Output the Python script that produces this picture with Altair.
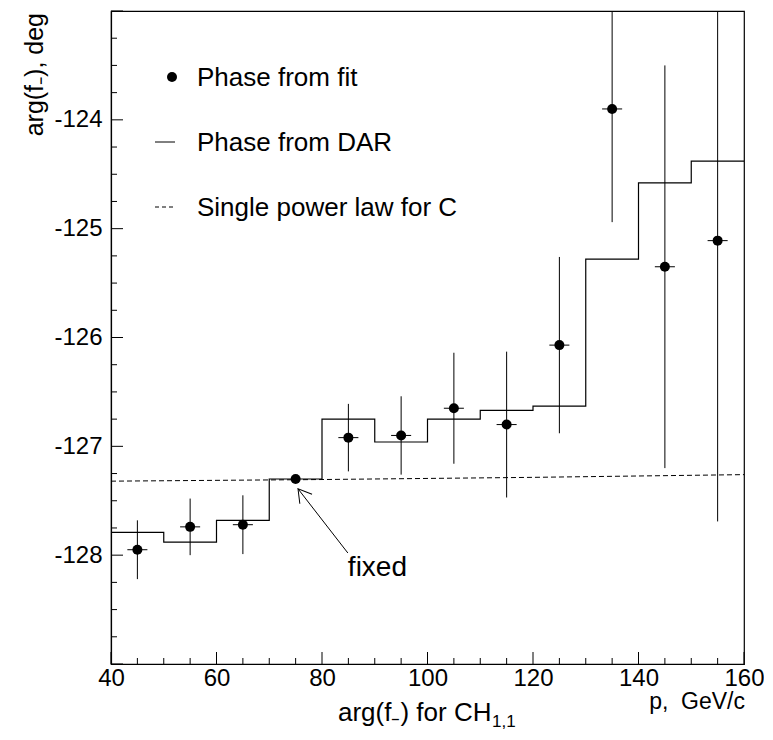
import altair as alt
import pandas as pd

# ---------------- data ----------------
p_centers = [45, 55, 65, 75, 85, 95, 105, 115, 125, 135, 145, 155]
phase_fit = [-127.95, -127.74, -127.72, -127.30, -126.92, -126.90,
             -126.65, -126.80, -126.07, -123.90, -125.35, -125.11]
phase_err = [0.27, 0.26, 0.27, 0.0, 0.31, 0.36, 0.51, 0.67, 0.81, 1.04, 1.85, 2.58]
p_halfwidth = [1.9, 1.9, 1.9, 0.0, 1.9, 1.9, 1.9, 1.9, 1.9, 1.9, 1.9, 1.9]

bin_edges = [40, 50, 60, 70, 80, 90, 100, 110, 120, 130, 140, 150, 160]
dar_phase = [-127.79, -127.88, -127.68, -127.30, -126.75, -126.96,
             -126.75, -126.67, -126.63, -125.28, -124.58, -124.38]

power_p = [40, 80, 120, 160]
power_phase = [-127.32, -127.305, -127.285, -127.26]

x_major = [40, 60, 80, 100, 120, 140, 160]
x_minor = [45, 50, 55, 65, 70, 75, 85, 90, 95, 105, 110, 115,
           125, 130, 135, 145, 150, 155]
y_major = [-129, -128, -127, -126, -125, -124, -123]
y_labels = [-128, -127, -126, -125, -124]
y_minor = [-128.75, -128.5, -128.25, -127.75, -127.5, -127.25,
           -126.75, -126.5, -126.25, -125.75, -125.5, -125.25,
           -124.75, -124.5, -124.25, -123.75, -123.5, -123.25]

legend_labels = ["Phase from fit", "Phase from DAR", "Single power law for C"]

arrow_tail = (84.9, -127.98)
arrow_tip = (75.45, -127.39)
fixed_pos = (84.9, -128.19)

FONT = "Liberation Sans"
W, H = 633, 653

xs = alt.Scale(domain=[40, 160], nice=False, zero=False)
ys = alt.Scale(domain=[-129, -123], nice=False, zero=False)

HYPHEN = "replace(datum.label, '\u2212', '-')"

AX_X = alt.Axis(values=x_major, title=None, grid=False, ticks=False, tickSize=0,
                labelPadding=2, labelFontSize=24, labelFont=FONT, labelColor="black",
                labelFlush=False, labelOverlap=False, domainColor="black",
                domainWidth=1.2, format="d")
AX_Y = alt.Axis(values=y_labels, title=None, grid=False, ticks=False, tickSize=0,
                labelPadding=9, labelFontSize=24, labelFont=FONT, labelColor="black",
                labelFlush=False, labelOverlap=False, domainColor="black",
                domainWidth=1.2, format="d", labelExpr=HYPHEN)


def X(field):
    return alt.X(field, scale=xs, axis=AX_X)


def Y(field):
    return alt.Y(field, scale=ys, axis=AX_Y)


fit_df = pd.DataFrame({
    "p": p_centers,
    "phase": phase_fit,
    "err": phase_err,
    "xw": p_halfwidth,
})
fit_df["lo"] = fit_df["phase"] - fit_df["err"]
fit_df["hi"] = fit_df["phase"] + fit_df["err"]
fit_df["xlo"] = fit_df["p"] - fit_df["xw"]
fit_df["xhi"] = fit_df["p"] + fit_df["xw"]
err_df = fit_df[fit_df["err"] > 0]
xerr_df = fit_df[fit_df["xw"] > 0]

step_df = pd.DataFrame({"p": bin_edges, "phase": dar_phase + [dar_phase[-1]]})
power_df = pd.DataFrame({"p": power_p, "phase": power_phase})

one = pd.DataFrame({"a": [0]})

# ---------------- layers ----------------
step_line = alt.Chart(step_df).mark_line(
    interpolate="step-after", color="black", strokeWidth=1.2, clip=True
).encode(x=X("p:Q"), y=Y("phase:Q"))

power_line = alt.Chart(power_df).mark_line(
    color="black", strokeWidth=1, strokeDash=[5, 3]
).encode(x=X("p:Q"), y=Y("phase:Q"))

vbars = alt.Chart(err_df).mark_rule(color="black", strokeWidth=1, clip=True).encode(
    x=X("p:Q"), y=Y("lo:Q"), y2="hi:Q")

hbars = alt.Chart(xerr_df).mark_rule(color="black", strokeWidth=1, clip=True).encode(
    x=X("xlo:Q"), x2="xhi:Q", y=Y("phase:Q"))

points = alt.Chart(fit_df).mark_circle(color="black", size=100, opacity=1).encode(
    x=X("p:Q"), y=Y("phase:Q"))

# ticks (inward, ROOT style)
ytick_major = alt.Chart(pd.DataFrame({"v": y_major})).mark_rule(color="black", strokeWidth=1).encode(
    y=Y("v:Q"), x=alt.value(0), x2=alt.value(12))
ytick_minor = alt.Chart(pd.DataFrame({"v": y_minor})).mark_rule(color="black", strokeWidth=1).encode(
    y=Y("v:Q"), x=alt.value(0), x2=alt.value(6))
xtick_major = alt.Chart(pd.DataFrame({"v": x_major})).mark_rule(color="black", strokeWidth=1).encode(
    x=X("v:Q"), y=alt.value(H), y2=alt.value(H - 12))
xtick_minor = alt.Chart(pd.DataFrame({"v": x_minor})).mark_rule(color="black", strokeWidth=1).encode(
    x=X("v:Q"), y=alt.value(H), y2=alt.value(H - 6))

# legend (manual, inside plot)
leg_dot = alt.Chart(one).mark_circle(color="black", size=100, opacity=1).encode(
    x=alt.value(61), y=alt.value(66))
leg_line = alt.Chart(one).mark_rule(color="black", strokeWidth=1).encode(
    x=alt.value(44), x2=alt.value(64), y=alt.value(131))
leg_dash = alt.Chart(one).mark_rule(color="black", strokeWidth=1, strokeDash=[4, 3]).encode(
    x=alt.value(44), x2=alt.value(64), y=alt.value(196))
leg_texts = [
    alt.Chart(one).mark_text(text=lbl, align="left", baseline="alphabetic",
                             font=FONT, fontSize=26, color="black").encode(
        x=alt.value(86), y=alt.value(yy))
    for lbl, yy in zip(legend_labels, [75, 140, 205])
]

# annotation "fixed" with arrow
arrow_df = pd.DataFrame({"x": [arrow_tail[0]], "y": [arrow_tail[1]],
                         "x2": [arrow_tip[0]], "y2": [arrow_tip[1]]})
arrow_shaft = alt.Chart(arrow_df).mark_rule(color="black", strokeWidth=1).encode(
    x=X("x:Q"), y=Y("y:Q"), x2="x2:Q", y2="y2:Q")
arrow_head = alt.Chart(arrow_df).mark_point(
    shape="M -0.6 1 L 0 0 L 0.6 1", filled=False, size=666, angle=322,
    color="black", strokeWidth=1, opacity=1
).encode(x=X("x2:Q"), y=Y("y2:Q"))
fixed_df = pd.DataFrame({"x": [fixed_pos[0]], "y": [fixed_pos[1]], "t": ["fixed"]})
fixed_text = alt.Chart(fixed_df).mark_text(
    align="left", baseline="alphabetic", font=FONT, fontSize=28, color="black"
).encode(x=X("x:Q"), y=Y("y:Q"), text="t:N")

# axis titles
y_title = alt.Chart(one).mark_text(
    text="arg(f\u208b), deg", angle=270, align="right", baseline="alphabetic",
    font=FONT, fontSize=25, color="black").encode(x=alt.value(-68), y=alt.value(2))
x_title_main = alt.Chart(one).mark_text(
    text="arg(f\u208b) for CH", align="left", baseline="alphabetic",
    font=FONT, fontSize=26, color="black").encode(x=alt.value(227), y=alt.value(710))
x_title_sub = alt.Chart(one).mark_text(
    text="1,1", align="left", baseline="alphabetic",
    font=FONT, fontSize=17, color="black").encode(x=alt.value(381), y=alt.value(716))
x_unit = alt.Chart(one).mark_text(
    text="p,\u00a0 GeV/c", align="right", baseline="alphabetic",
    font=FONT, fontSize=23, color="black").encode(x=alt.value(634), y=alt.value(698))

chart = alt.layer(
    step_line, power_line, vbars, hbars, points,
    ytick_major, ytick_minor, xtick_major, xtick_minor,
    leg_dot, leg_line, leg_dash, *leg_texts,
    arrow_shaft, arrow_head, fixed_text,
    y_title, x_title_main, x_title_sub, x_unit,
).properties(
    width=W, height=H,
    autosize=alt.AutoSizeParams(type="none"),
    padding={"left": 103, "top": 3, "right": 20, "bottom": 68},
    background="white",
).configure_view(
    stroke="black", strokeWidth=1.2
)

chart.save("out.html", embed_options={"renderer": "svg", "actions": False})
